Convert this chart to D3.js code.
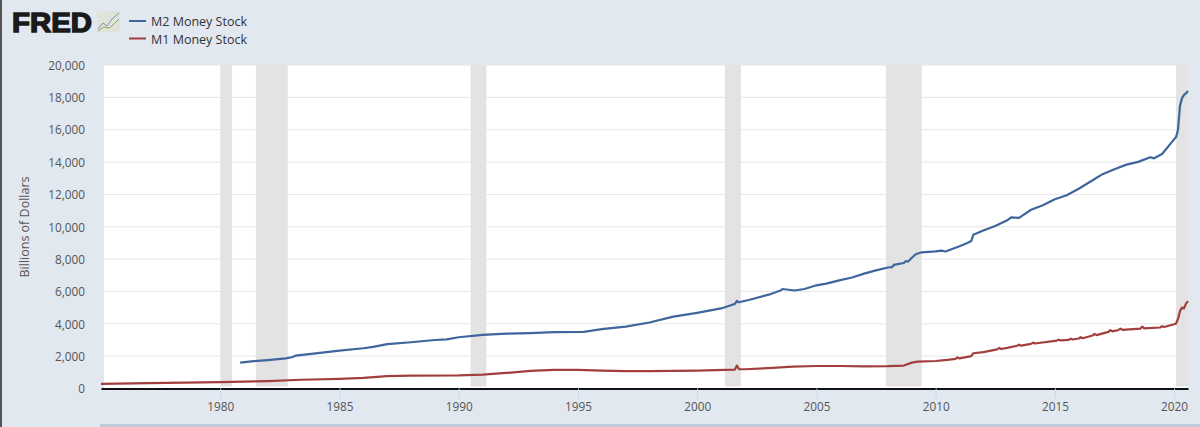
<!DOCTYPE html>
<html>
<head>
<meta charset="utf-8">
<script src="https://cdn.jsdelivr.net/npm/d3@7"></script>
<style>
  html, body { margin: 0; padding: 0; background: #e1e8f0; overflow: hidden; }
  text { font-family: "Open Sans", sans-serif; }
</style>
</head>
<body>
<svg id="chart" width="1200" height="427"></svg>
<script>
const seriesNames = ["M2 Money Stock", "M1 Money Stock"];
const yTicks = [0, 2000, 4000, 6000, 8000, 10000, 12000, 14000, 16000, 18000, 20000];
const xTickYears = [1980, 1985, 1990, 1995, 2000, 2005, 2010, 2015, 2020];

const recessionStart = ["1980-01", "1981-07", "1990-07", "2001-03", "2007-12", "2020-02"];
const recessionEnd = ["1980-07", "1982-11", "1991-03", "2001-11", "2009-06", "2020-08"];

const m2Dates = ["1980-11", "1981-06", "1982-01", "1982-10", "1983-01", "1983-03", "1984-01", "1985-01",
  "1986-01", "1986-06", "1987-01", "1988-01", "1989-01", "1989-07", "1990-01", "1991-01", "1992-01", "1993-01",
  "1994-01", "1995-04", "1996-01", "1997-01", "1998-01", "1999-01", "2000-01", "2001-01", "2001-06", "2001-08", "2001-09",
  "2001-10", "2002-03", "2003-01", "2003-07", "2003-08", "2004-02", "2004-07", "2005-01", "2005-06", "2006-01", "2006-07",
  "2007-01", "2007-07", "2008-01", "2008-03", "2008-04", "2008-09", "2008-10", "2008-11", "2009-01", "2009-03", "2009-06",
  "2010-01", "2010-04", "2010-06", "2011-01", "2011-05", "2011-07", "2011-08",
  "2012-01", "2012-07", "2013-01", "2013-03", "2013-07", "2014-01", "2014-07", "2015-01", "2015-07", "2016-01", "2016-07",
  "2017-01", "2017-07", "2018-01", "2018-07", "2019-01", "2019-03", "2019-07", "2020-01", "2020-02",
  "2020-03", "2020-04", "2020-05", "2020-06", "2020-07", "2020-08"];
const m2Values = [1600, 1690, 1760, 1860, 1930, 2030, 2170, 2340,
  2490, 2570, 2740, 2860, 3000, 3040, 3170, 3310, 3390, 3420,
  3480, 3500, 3670, 3830, 4080, 4440, 4680, 4950, 5150, 5230, 5420,
  5330, 5470, 5800, 6060, 6150, 6060, 6150, 6380, 6480, 6700, 6860,
  7100, 7300, 7480, 7500, 7640, 7760, 7880, 7840, 8080, 8300, 8420,
  8480, 8520, 8470, 8800, 9000, 9120, 9500,
  9770, 10050, 10400, 10580, 10550, 11050, 11330, 11700, 11950, 12350, 12800,
  13250, 13560, 13840, 14010, 14300, 14230, 14500, 15400, 15550,
  16000, 17500, 17950, 18150, 18250, 18400];

const m1Dates = ["1975-01", "1977-01", "1980-01", "1982-01", "1983-06", "1985-01", "1986-01", "1987-01", "1988-01",
  "1990-01", "1991-01", "1992-01", "1993-01", "1994-01", "1995-01", "1996-01", "1997-01", "1998-01", "2000-01",
  "2001-08", "2001-09", "2001-10", "2002-01", "2003-01", "2004-01", "2005-01", "2006-01", "2007-01", "2008-01",
  "2008-09", "2009-01", "2009-04", "2010-01", "2010-07", "2010-11", "2010-12", "2011-01", "2011-07", "2011-08",
  "2012-01", "2012-08", "2012-09", "2012-10", "2013-01", "2013-06", "2013-07", "2013-08", "2014-01", "2014-02", "2014-03",
  "2015-02", "2015-03", "2015-04", "2015-08", "2015-09", "2015-10", "2016-01", "2016-02", "2016-03",
  "2016-08", "2016-09", "2016-10", "2017-04", "2017-05", "2017-06", "2017-09", "2017-10", "2017-11", "2018-08", "2018-09", "2018-10",
  "2019-06", "2019-07", "2019-08", "2020-01",
  "2020-02", "2020-03", "2020-04", "2020-05", "2020-06", "2020-07", "2020-08"];
const m1Values = [290, 330, 400, 460, 540, 600, 660, 760, 800,
  810, 860, 960, 1090, 1150, 1150, 1110, 1080, 1080, 1110,
  1170, 1420, 1200, 1190, 1260, 1350, 1390, 1390, 1370, 1380,
  1420, 1600, 1660, 1700, 1770, 1830, 1920, 1860, 2000, 2180,
  2250, 2420, 2510, 2440, 2510, 2640, 2710, 2650, 2760, 2840, 2780,
  2960, 3020, 2970, 3010, 3080, 3030, 3090, 3170, 3110,
  3280, 3370, 3300, 3500, 3610, 3530, 3620, 3700, 3630, 3700, 3830, 3720,
  3770, 3850, 3800, 3970,
  4020, 4300, 4800, 5000, 4950, 5250, 5400];

const parseMonth = d3.utcParse("%Y-%m");
const margin = { top: 65, right: 12, bottom: 38.5, left: 101 };
const width = 1200, height = 427;

const svg = d3.select("#chart");
const x = d3.scaleUtc()
  .domain([parseMonth("1975-01"), parseMonth("2020-08")])
  .range([margin.left, width - margin.right]);
const y = d3.scaleLinear().domain([0, 20000]).range([height - margin.bottom, margin.top]);

// window edge and range selector strip
svg.append("rect").attr("width", 2).attr("height", height).attr("fill", "#555");
svg.append("rect").attr("x", 100).attr("y", 424).attr("width", 1100).attr("height", 3).attr("fill", "#c0cbd9");

// plot background
svg.append("rect")
  .attr("x", margin.left + 3).attr("y", margin.top)
  .attr("width", width - margin.right - margin.left - 3)
  .attr("height", height - margin.bottom - margin.top)
  .attr("fill", "#fff");

// gridlines
svg.append("g").selectAll("line").data(yTicks.slice(1)).join("line")
  .attr("x1", margin.left + 3).attr("x2", width - margin.right)
  .attr("y1", d => y(d)).attr("y2", d => y(d))
  .attr("stroke", "#e6e6e6").attr("stroke-width", 1);

// recessions
svg.append("g").selectAll("rect").data(recessionStart).join("rect")
  .attr("x", d => x(parseMonth(d)))
  .attr("y", margin.top)
  .attr("width", (d, i) => x(parseMonth(recessionEnd[i])) - x(parseMonth(d)))
  .attr("height", height - margin.bottom - margin.top - 2)
  .attr("fill", "#e3e3e3");

// axes
const yAxis = d3.axisLeft(y).tickValues(yTicks).tickFormat(d3.format(",")).tickSize(0).tickPadding(0);
const yG = svg.append("g").attr("transform", "translate(85,0.5)").call(yAxis);
yG.select(".domain").remove();
yG.selectAll("text").attr("fill", "#555").style("font-size", "11.8px").style("font-family", "Open Sans");

const xAxis = d3.axisBottom(x)
  .tickValues(xTickYears.map(d => parseMonth(d + "-01")))
  .tickFormat(d3.utcFormat("%Y")).tickSizeInner(10).tickSizeOuter(0).tickPadding(4);
const xG = svg.append("g").attr("transform", `translate(0,${height - margin.bottom})`).call(xAxis);
xG.select(".domain").attr("stroke", "#111").attr("stroke-width", 2);
xG.selectAll("line").attr("stroke", "#ccd6eb");
xG.selectAll("text").attr("fill", "#555").style("font-size", "11.8px").style("font-family", "Open Sans");

svg.append("text")
  .attr("transform", "translate(29,227) rotate(-90)")
  .attr("text-anchor", "middle")
  .attr("font-size", 12.5).attr("fill", "#555")
  .text("Billions of Dollars");

// series
const line = d3.line().x(d => x(d[0])).y(d => y(d[1]));
const m2Points = m2Dates.map((d, i) => [parseMonth(d), m2Values[i]]);
const m1Points = m1Dates.map((d, i) => [parseMonth(d), m1Values[i]]);
const seriesColors = ["#3f669c", "#a23f3d"];

[m2Points, m1Points].forEach((pts, i) => {
  svg.append("path").attr("d", line(pts))
    .attr("fill", "none").attr("stroke", seriesColors[i]).attr("stroke-width", 2.2)
    .attr("stroke-linejoin", "round");
});

// legend
seriesNames.forEach((name, i) => {
  const ly = 21 + i * 17.5;
  svg.append("line").attr("x1", 129).attr("x2", 146).attr("y1", ly).attr("y2", ly)
    .attr("stroke", seriesColors[i]).attr("stroke-width", 2);
  svg.append("text").attr("x", 151).attr("y", ly + 5)
    .attr("font-size", 12.5).attr("fill", "#333").text(name);
});

// logo
const logo = svg.append("g");
logo.append("text").attr("x", 12).attr("y", 31.5)
  .style("font-family", "Liberation Sans").style("font-weight", 700).style("font-size", "27px")
  .attr("fill", "#1a1a1a").attr("stroke", "#1a1a1a").attr("stroke-width", 1.4)
  .attr("textLength", 80).attr("lengthAdjust", "spacingAndGlyphs")
  .text("FRED");
logo.append("rect").attr("x", 97).attr("y", 11).attr("width", 23).attr("height", 21).attr("fill", "#dfe3d8");
const iconA = [[98, 29], [103, 23], [107, 26], [112, 19], [119, 13]];
const iconB = [[98, 31], [104, 27], [109, 28], [114, 24], [119, 19]];
const iconLine = d3.line();
logo.append("path").attr("d", iconLine(iconA)).attr("fill", "none").attr("stroke", "#7d9aa6").attr("stroke-width", 1);
logo.append("path").attr("d", iconLine(iconB)).attr("fill", "none").attr("stroke", "#8fa66b").attr("stroke-width", 1);
</script>
</body>
</html>
